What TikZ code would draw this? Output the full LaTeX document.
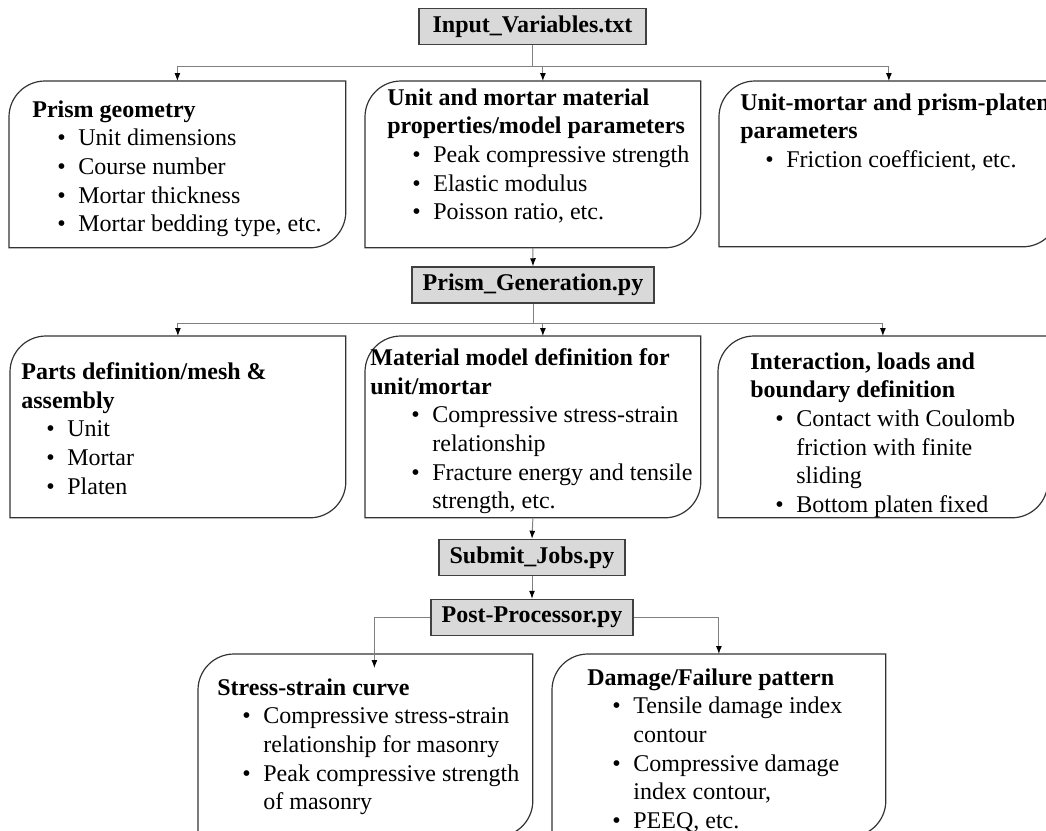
\documentclass[tikz,border=0pt]{standalone}
\usepackage{fontspec}
\setmainfont{Liberation Serif}
\usetikzlibrary{arrows.meta}

\newcommand{\bl}{\hspace*{12.5pt}\makebox[10.5pt][l]{\textbullet}}
\newcommand{\bc}{\hspace*{23pt}}

\begin{document}
\begin{tikzpicture}[x=0.5pt, y=0.5pt,
    script/.style = {rectangle, draw=black!75, fill=black!15, line width=0.75pt, font=\fontsize{12}{14.4}\selectfont\bfseries, minimum height=18pt, inner sep=2pt},
    leaf/.style = {rectangle, anchor=north west, inner sep=0pt},
    txt/.style = {anchor=north west, inner sep=0pt, align=left, font=\fontsize{12}{14.35}\selectfont},
    rim/.style = {draw=black!80, line width=0.6pt},
    arrow/.style = {draw=black!50, line width=0.5pt, -{Latex[length=4pt, width=3pt, black]}}
]
\useasboundingbox (0,0) rectangle (1046,-831);
\clip (0,0) rectangle (1046,-831);

\node (inp) [script, minimum width=113.5pt] at (532.5,-26.5) {Input\_Variables.txt};
\node (gen) [script, minimum width=121pt] at (533,-285) {Prism\_Generation.py};
\node (sub) [script, minimum width=93pt] at (532,-557.5) {Submit\_Jobs.py};
\node (post) [script, minimum width=101pt] at (532,-617.5) {Post-Processor.py};

% input boxes
\node (g1) [leaf, minimum width=168pt, minimum height=83pt] at (9,-81) {};
\node (g2) [leaf, minimum width=167.5pt, minimum height=83pt] at (365,-81) {};
\node (g3) [leaf, minimum width=169.5pt, minimum height=82.5pt] at (719,-81) {};
% definition boxes
\node (d1) [leaf, minimum width=167.5pt, minimum height=90.5pt] at (10,-336) {};
\node (d2) [leaf, minimum width=167.5pt, minimum height=90.5pt] at (365,-336) {};
\node (d3) [leaf, minimum width=164.5pt, minimum height=90.5pt] at (718,-336) {};
% output boxes
\node (o1) [leaf, minimum width=167pt, minimum height=91pt] at (198,-654) {};
\node (o2) [leaf, minimum width=166.5pt, minimum height=91pt] at (552,-654) {};

\foreach \b in {g1,g2,g3,d1,d2,d3,o1,o2}
  \draw[rim] (\b.south west) -- ([yshift=-18pt]\b.north west) arc[start angle=180, end angle=90, radius=18pt]
    -- (\b.north east) -- ([yshift=18pt]\b.south east) arc[start angle=0, end angle=-90, radius=18pt] -- cycle;

\node (g1t) [txt] at (32,-100) {\textbf{Prism geometry}\\ \bl Unit dimensions\\ \bl Course number\\ \bl Mortar thickness\\ \bl Mortar bedding type, etc.};
\node (g2t) [txt] at (387,-88) {\textbf{Unit and mortar material}\\ \textbf{properties/model parameters}\\ \bl Peak compressive strength\\ \bl Elastic modulus\\ \bl Poisson ratio, etc.};
\node (g3t) [txt] at (740,-93) {\textbf{Unit-mortar and prism-platen}\\ \textbf{parameters}\\ \bl Friction coefficient, etc.};

\node (d1t) [txt] at (21,-362) {\textbf{Parts definition/mesh \&}\\ \textbf{assembly}\\ \bl Unit\\ \bl Mortar\\ \bl Platen};
\node (d2t) [txt] at (370,-348) {\textbf{Material model definition for}\\ \textbf{unit/mortar}\\ \hspace*{8pt}\bl Compressive stress-strain\\ \hspace*{8pt}\bc relationship\\ \hspace*{8pt}\bl Fracture energy and tensile\\ \hspace*{8pt}\bc strength, etc.};
\node (d3t) [txt] at (750,-352) {\textbf{Interaction, loads and}\\ \textbf{boundary definition}\\ \bl Contact with Coulomb\\ \bc friction with finite\\ \bc sliding\\ \bl Bottom platen fixed};

\node (o1t) [txt] at (217,-678) {\textbf{Stress-strain curve}\\ \bl Compressive stress-strain\\ \bc relationship for masonry\\ \bl Peak compressive strength\\ \bc of masonry};
\node (o2t) [txt] at (587,-668) {\textbf{Damage/Failure pattern}\\ \bl Tensile damage index\\ \bc contour\\ \bl Compressive damage\\ \bc index contour,\\ \bl PEEQ, etc.};

\draw [arrow] (inp.south) -- ++(0,-21.5) -| (g1.north);
\draw [arrow] (inp.south) -- ++(0,-21.5) -| ([xshift=5pt]g2.north);
\draw [arrow] (inp.south) -- ++(0,-21.5) -| (g3.north);
\draw [arrow] (g2.south) -- (gen.north);

\draw [arrow] (gen.south) -- ++(0,-20) -| (d1.north);
\draw [arrow] (gen.south) -- ++(0,-20) -| ([xshift=5pt]d2.north);
\draw [arrow] (gen.south) -- ++(0,-20) -| (d3.north);
\draw [arrow] (d2.south) -- (sub.north);
\draw [arrow] (sub) -- (post);

\draw [arrow] (post.west) -| ([xshift=4.5pt, yshift=-7pt]o1.north);
\draw [arrow] (post.east) -| (o2.north);

\end{tikzpicture}
\end{document}
